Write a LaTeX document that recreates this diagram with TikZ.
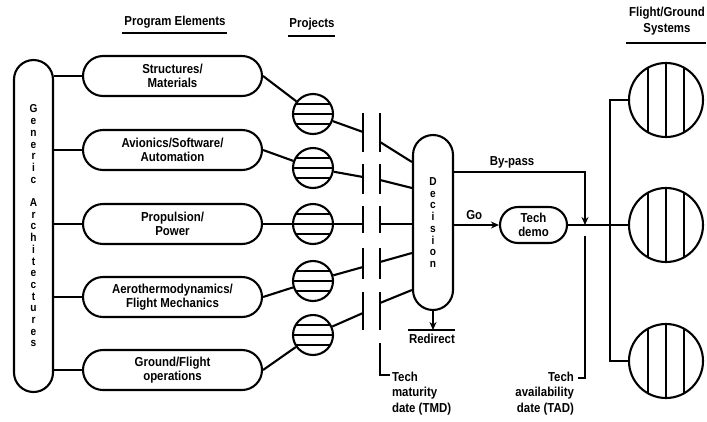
\documentclass[tikz,border=0pt]{standalone}
\usepackage{fontspec}
\setmainfont[FakeStretch=0.88]{Liberation Sans}
\usetikzlibrary{arrows.meta}
\begin{document}
\begin{tikzpicture}[x=1pt,y=-1pt,
  line width=2.1pt,
  every node/.style={font=\bfseries\fontsize{13}{14}\selectfont, inner sep=0pt},
  elem/.style={draw, rectangle, rounded corners=20pt, minimum width=179pt,
    minimum height=40pt, align=center},
  vbox/.style={draw, rectangle, align=center,
    font=\bfseries\fontsize{11.5}{11.7}\selectfont},
  proj/.style={circle, draw, minimum size=40pt,
    path picture={\foreach \d in {-10,0,10}
      \draw[line width=1.3pt] ([yshift=\d pt]path picture bounding box.west)
        -- ([yshift=\d pt]path picture bounding box.east);}},
  sys/.style={circle, draw, minimum size=74pt,
    path picture={\foreach \d in {-18,0,18}
      \draw[line width=1.5pt] ([xshift=\d pt]path picture bounding box.north)
        -- ([xshift=\d pt]path picture bounding box.south);}},
  arr/.style={-{Stealth[length=8pt,width=7pt]}},
  bar/.style={line width=2.3pt},
  thin/.style={line width=1.3pt}]

\useasboundingbox (0,0) rectangle (707,421);

% column headings
\node (hprog) at (175,22) {Program Elements};
\draw[thin] (122,33) -- (227,33);
\node (hproj) at (312,24) {Projects};
\draw[thin] (288,36) -- (335,36);
\node[align=center, font=\bfseries\fontsize{13}{16.5}\selectfont] (hsys) at (667,21) {Flight/Ground\\Systems};
\draw[thin] (626,43) -- (706,43);

% generic architectures column
\node[vbox, rounded corners=19.5pt, minimum width=39pt, minimum height=332pt] (ga) at (33.5,226)
  {G\\e\\n\\e\\r\\i\\c\\[11.7pt]A\\r\\c\\h\\i\\t\\e\\c\\t\\u\\r\\e\\s};

% program elements
\node[elem] (e1) at (172.5,76)  {Structures/\\Materials};
\node[elem] (e2) at (172.5,150) {Avionics/Software/\\Automation};
\node[elem] (e3) at (172.5,224) {Propulsion/\\Power};
\node[elem] (e4) at (172.5,297) {Aerothermodynamics/\\Flight Mechanics};
\node[elem] (e5) at (172.5,370) {Ground/Flight\\operations};

\foreach \i in {1,...,5} \draw (ga.east |- e\i) -- (e\i.west);

% projects
\node[proj] (p1) at (313,114) {};
\node[proj] (p2) at (313,168) {};
\node[proj] (p3) at (313,224) {};
\node[proj] (p4) at (313,281) {};
\node[proj] (p5) at (313,335) {};

\foreach \i in {1,...,5} \draw (e\i.east) -- (p\i);

% tech maturity gates (two broken bars)
\foreach \a/\b in {113/152,164/194,206/233,248/279,292/330} {
  \draw[bar] (363,\a) -- (363,\b);
  \draw[bar] (380,\a) -- (380,\b);
}
\coordinate (l1) at (363,132);
\coordinate (l2) at (363,177);
\coordinate (l3) at (363,224);
\coordinate (l4) at (363,267);
\coordinate (l5) at (363,313);
\foreach \i in {1,...,5} \draw (p\i) -- (l\i);

% decision
\node[vbox, rounded corners=20pt, minimum width=40pt, minimum height=175pt] (dec) at (433,222.5)
  {D\\e\\c\\i\\s\\i\\o\\n};

\coordinate (r1) at (380,142); \coordinate (d1) at (dec.west |- 0,162);
\coordinate (r2) at (380,180); \coordinate (d2) at (dec.west |- 0,188);
\coordinate (r3) at (380,224); \coordinate (d3) at (dec.west |- 0,224);
\coordinate (r4) at (380,262); \coordinate (d4) at (dec.west |- 0,253);
\coordinate (r5) at (380,303); \coordinate (d5) at (dec.west |- 0,290);
\foreach \i in {1,...,5} \draw (r\i) -- (d\i);

% tech maturity date marker
\coordinate (tmdtop) at (380,343);
\coordinate (tmdbot) at (380,375);
\draw[bar] (tmdtop) -- (tmdbot) -- ++(10,0);
\node[anchor=north west, align=left, font=\bfseries\fontsize{13}{15.5}\selectfont] (tmd) at (391,371) {Tech\\maturity\\date (TMD)};

% redirect
\coordinate (rd) at (433,330);
\draw[arr] (dec.south) -- (rd);
\draw (408,330) -- (455,330);
\node (rdl) at (432,339) {Redirect};

% tech demo and go path
\node[elem, rounded corners=18pt, minimum width=67pt, minimum height=36pt] (demo) at (533.5,225) {Tech\\demo};
\draw[arr] (dec.east |- demo) -- (demo.west) node[pos=0.45, above=4pt] (go) {Go};

% flight/ground systems
\node[sys] (s1) at (666,100) {};
\node[sys] (s2) at (666,225) {};
\node[sys] (s3) at (666,361) {};

\draw (demo.east) -- (s2.west);
\draw (s1.west) -- ++(-18,0) |- (s3.west);

% by-pass
\coordinate (bp) at (585,172);
\coordinate (jn) at (585,225);
\draw[arr] (dec.east |- bp) -- (bp) -- (jn);
\node (bpl) at (512,162) {By-pass};

% tech availability date marker
\coordinate (tadtop) at (585,236);
\coordinate (tadbot) at (585,378);
\draw[bar] (tadtop) -- (tadbot) -- ++(-7,0);
\node[anchor=north east, align=right, font=\bfseries\fontsize{13}{15.5}\selectfont] (tad) at (575,371) {Tech\\availability\\date (TAD)};

\end{tikzpicture}
\end{document}
